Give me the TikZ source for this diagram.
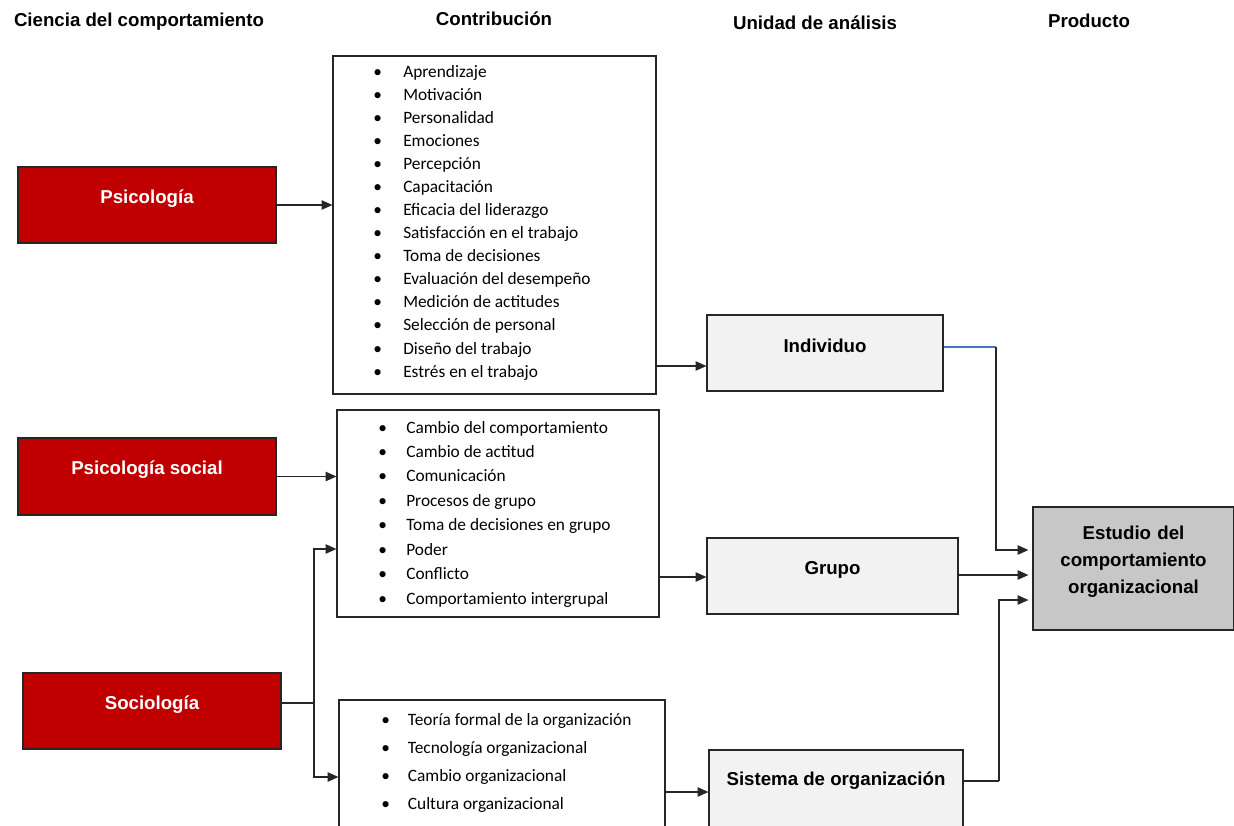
\documentclass[tikz,border=0pt]{standalone}
\usepackage{fontspec}
\setmainfont{Liberation Sans}
\newfontfamily\listfont{Carlito}
\usetikzlibrary{arrows.meta,fit}
\definecolor{rojo}{HTML}{C00000}
\definecolor{azul}{HTML}{4472C4}

\begin{document}
\begin{tikzpicture}[x=0.75pt,y=-0.75pt,
   ciencia/.style={draw=black!85,line width=0.9pt,fill=rojo,text=white,inner sep=0pt,
                   font=\bfseries\fontsize{14}{17}\selectfont,text depth=13pt},
   unidad/.style={draw=black!85,line width=0.9pt,fill=black!5,inner sep=0pt,
                  font=\bfseries\fontsize{14}{20.6}\selectfont,text depth=13pt},
   lista/.style={draw=black!85,line width=0.9pt,fill=white,inner sep=0pt},
   item/.style={anchor=west,inner sep=0pt,text height=9pt,text depth=3pt,
                font=\listfont\fontsize{13}{15}\selectfont},
   titulo/.style={font=\bfseries\fontsize{14}{16}\selectfont},
   flecha/.style={-{Triangle[length=8pt,width=7pt]},line width=0.8pt,black!85}]
   \path[use as bounding box,clip] (0,0) rectangle (1234,825);

   % titulos
   \node[titulo] (h-ciencia)  at (139,22) {Ciencia del comportamiento};
   \node[titulo] (h-contrib)  at (494,19) {Contribución};
   \node[titulo] (h-unidad)   at (815,23) {Unidad de análisis};
   \node[titulo] (h-producto) at (1089,21) {Producto};

   % ciencias
   \node[ciencia, fit={(18,167) (276,243)}] (psi) {Psicología};
   \node[ciencia, fit={(18,438) (276,515)}] (pss) {Psicología social};
   \node[ciencia, fit={(23,673) (281,749)}] (soc) {Sociología};

   % contribuciones
   \node[lista, fit={(333,56) (656,394)}] (contrib1) {};
   \node[lista, fit={(337,410) (659,617)}] (contrib2) {};
   \node[lista, fit={(339,700) (665,860)}] (contrib3) {};
   \foreach \t [count=\i] in {Aprendizaje, Motivación, Personalidad, Emociones,
        Percepción, Capacitación, Eficacia del liderazgo, Satisfacción en el trabajo,
        Toma de decisiones, Evaluación del desempeño, Medición de actitudes,
        Selección de personal, Diseño del trabajo, Estrés en el trabajo}
      \node[item] (c1-\i) at (373,50+23.08*\i) {\makebox[22.5pt][l]{\textbullet}\t};
   \foreach \t [count=\i] in {Cambio del comportamiento, Cambio de actitud,
        Comunicación, Procesos de grupo, Toma de decisiones en grupo, Poder,
        Conflicto, Comportamiento intergrupal}
      \node[item] (c2-\i) at (378,404.6+24.43*\i) {\makebox[21pt][l]{\textbullet}\t};
   \foreach \t [count=\i] in {Teoría formal de la organización,
        Tecnología organizacional, Cambio organizacional, Cultura organizacional}
      \node[item] (c3-\i) at (381,693+28*\i) {\makebox[20pt][l]{\textbullet}\t};

   % unidades
   \node[unidad, fit={(707,315) (943,391)}] (ind) {Individuo};
   \node[unidad, fit={(707,538) (958,614)}] (grp) {Grupo};
   \node[unidad, fit={(709,750) (963,860)}] (sis) {};
   \node[font=\bfseries\fontsize{14}{17}\selectfont] (sis-txt) at (836,781) {Sistema de organización};

   % producto
   \node[unidad, fill=black!22, fit={(1033,507) (1234,630)}, align=center] (est)
        {Estudio del\\comportamiento\\organizacional};

   % conectores
   \draw[flecha] (psi.east) -- (contrib1.west |- psi.east);
   \draw[flecha] (pss.east) -- (contrib2.west |- pss.east);
   \coordinate (bif) at (314,703);
   \draw[line width=0.8pt,black!85] (soc.east |- bif) -- (bif);
   \draw[flecha] (bif) |- (contrib2.west |- 0,549);
   \draw[flecha] (bif) |- (contrib3.west |- 0,777);

   \draw[flecha] (contrib1.east |- 0,366) -- (ind.west |- 0,366);
   \draw[flecha] (contrib2.east |- 0,577) -- (grp.west |- 0,577);
   \draw[flecha] (contrib3.east |- 0,792) -- (sis.west |- 0,792);

   \coordinate (codo1) at (996,347);
   \coordinate (codo3) at (999,781);
   \draw[azul,line width=0.8pt] (ind.east |- codo1) -- (codo1);
   \draw[flecha,shorten >=3pt] (codo1) |- (est.west |- 0,550);
   \draw[flecha,shorten >=3pt] (grp.east |- 0,575) -- (est.west |- 0,575);
   \draw[line width=0.8pt,black!85] (sis.east |- sis-txt) -- (codo3);
   \draw[flecha,shorten >=3pt] (codo3) |- (est.west |- 0,600);
\end{tikzpicture}
\end{document}
